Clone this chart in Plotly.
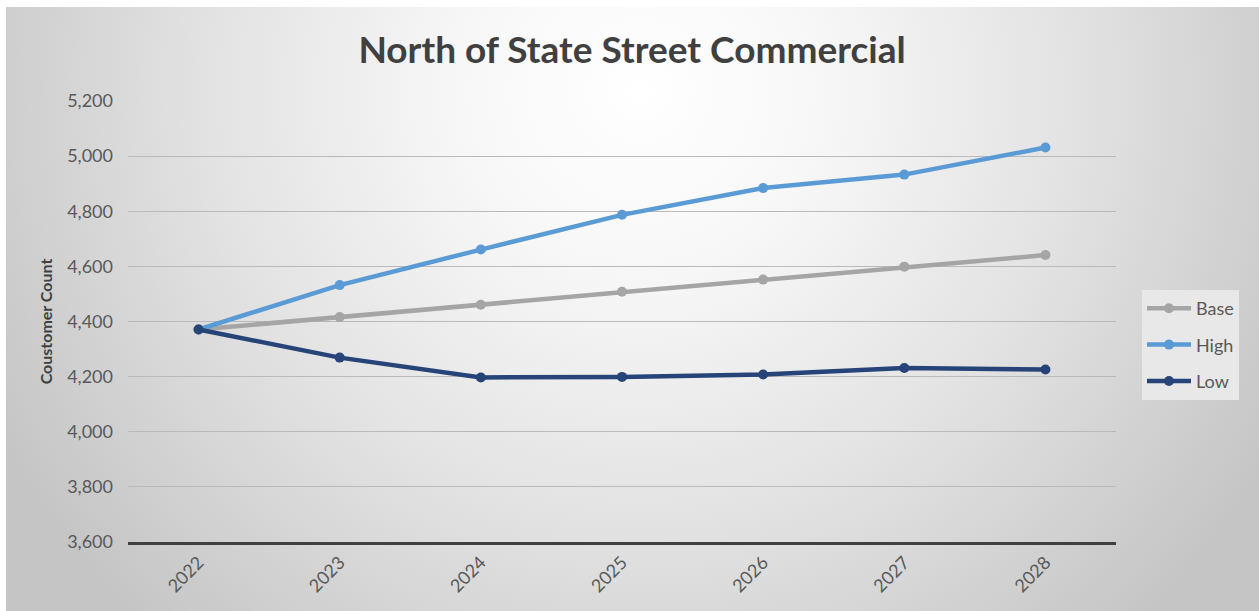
import base64
import plotly.graph_objects as go

years = ["2022", "2023", "2024", "2025", "2026", "2027", "2028"]
base = [4371, 4416, 4461, 4508, 4552, 4599, 4641]
high = [4371, 4532, 4661, 4787, 4884, 4933, 5031]
low = [4371, 4269, 4197, 4199, 4208, 4231, 4226]

series = [("Base", base, "#A5A5A5"), ("High", high, "#5B9BD5"), ("Low", low, "#264478")]

W, H = 1259, 611
ML, MR, MT, MB = 128, 143, 101, 69
PW, PH = W - ML - MR, H - MT - MB

# radial white-to-grey backdrop covering the chart area
svg = f"""<svg xmlns='http://www.w3.org/2000/svg' width='{W}' height='{H}' viewBox='0 0 {W} {H}' preserveAspectRatio='none'>
<defs><radialGradient id='g' cx='640' cy='90' r='730' gradientUnits='userSpaceOnUse'>
<stop offset='0' stop-color='#ffffff'/><stop offset='0.25' stop-color='#f7f7f7'/>
<stop offset='0.6' stop-color='#e2e2e2'/>
<stop offset='1' stop-color='#c5c5c5'/></radialGradient></defs>
<rect x='0' y='0' width='{W}' height='{H}' fill='#ffffff'/>
<rect x='6' y='7' width='{W-6}' height='{H-7}' fill='url(#g)'/>
</svg>"""
bg = "data:image/svg+xml;base64," + base64.b64encode(svg.encode()).decode()

fig = go.Figure()
for name, vals, color in series:
    fig.add_trace(go.Scatter(
        x=years, y=vals, name=name, legendgroup=name, mode="lines+markers",
        line=dict(color=color, width=4.5),
        marker=dict(color=color, size=10),
    ))

font_family = "Lato, 'Open Sans', sans-serif"

fig.update_layout(
    width=W, height=H,
    margin=dict(l=ML, r=MR, t=MT, b=MB),
    paper_bgcolor="rgba(0,0,0,0)",
    plot_bgcolor="rgba(0,0,0,0)",
    font=dict(family=font_family, color="#595959", size=18),
    title=dict(text="<b>North of State Street Commercial</b>", x=0.502, xanchor="center",
               y=0.918, yanchor="middle",
               font=dict(size=37, color="#404040", family=font_family)),
    images=[dict(source=bg, xref="paper", yref="paper",
                 x=-ML / PW, y=1 + MT / PH, sizex=W / PW, sizey=H / PH,
                 xanchor="left", yanchor="top", layer="below", sizing="stretch")],
    legend=dict(x=(1142 - ML) / PW, xanchor="left", y=(542 - 345) / PH, yanchor="middle",
                bgcolor="#e8e8e8", borderwidth=0,
                font=dict(size=18, color="#595959"),
                itemwidth=44, tracegroupgap=10),
    showlegend=True,
)

fig.update_xaxes(
    type="category", range=[-0.5, 6.5], showgrid=False, zeroline=False,
    showline=True, linecolor="#404040", linewidth=3, ticks="", tickangle=-45,
    tickfont=dict(size=18, color="#595959"),
)
fig.update_yaxes(
    range=[3600, 5200], dtick=200, tickformat=",d",
    showgrid=True, gridcolor="#bababa", gridwidth=1,
    zeroline=False, showline=False, ticks="",
    ticklabelstandoff=14,
    tickfont=dict(size=18, color="#595959"),
    title=dict(text="<b>Coustomer Count</b>", font=dict(size=16, color="#404040"), standoff=10),
)

fig.write_html("out.html")
